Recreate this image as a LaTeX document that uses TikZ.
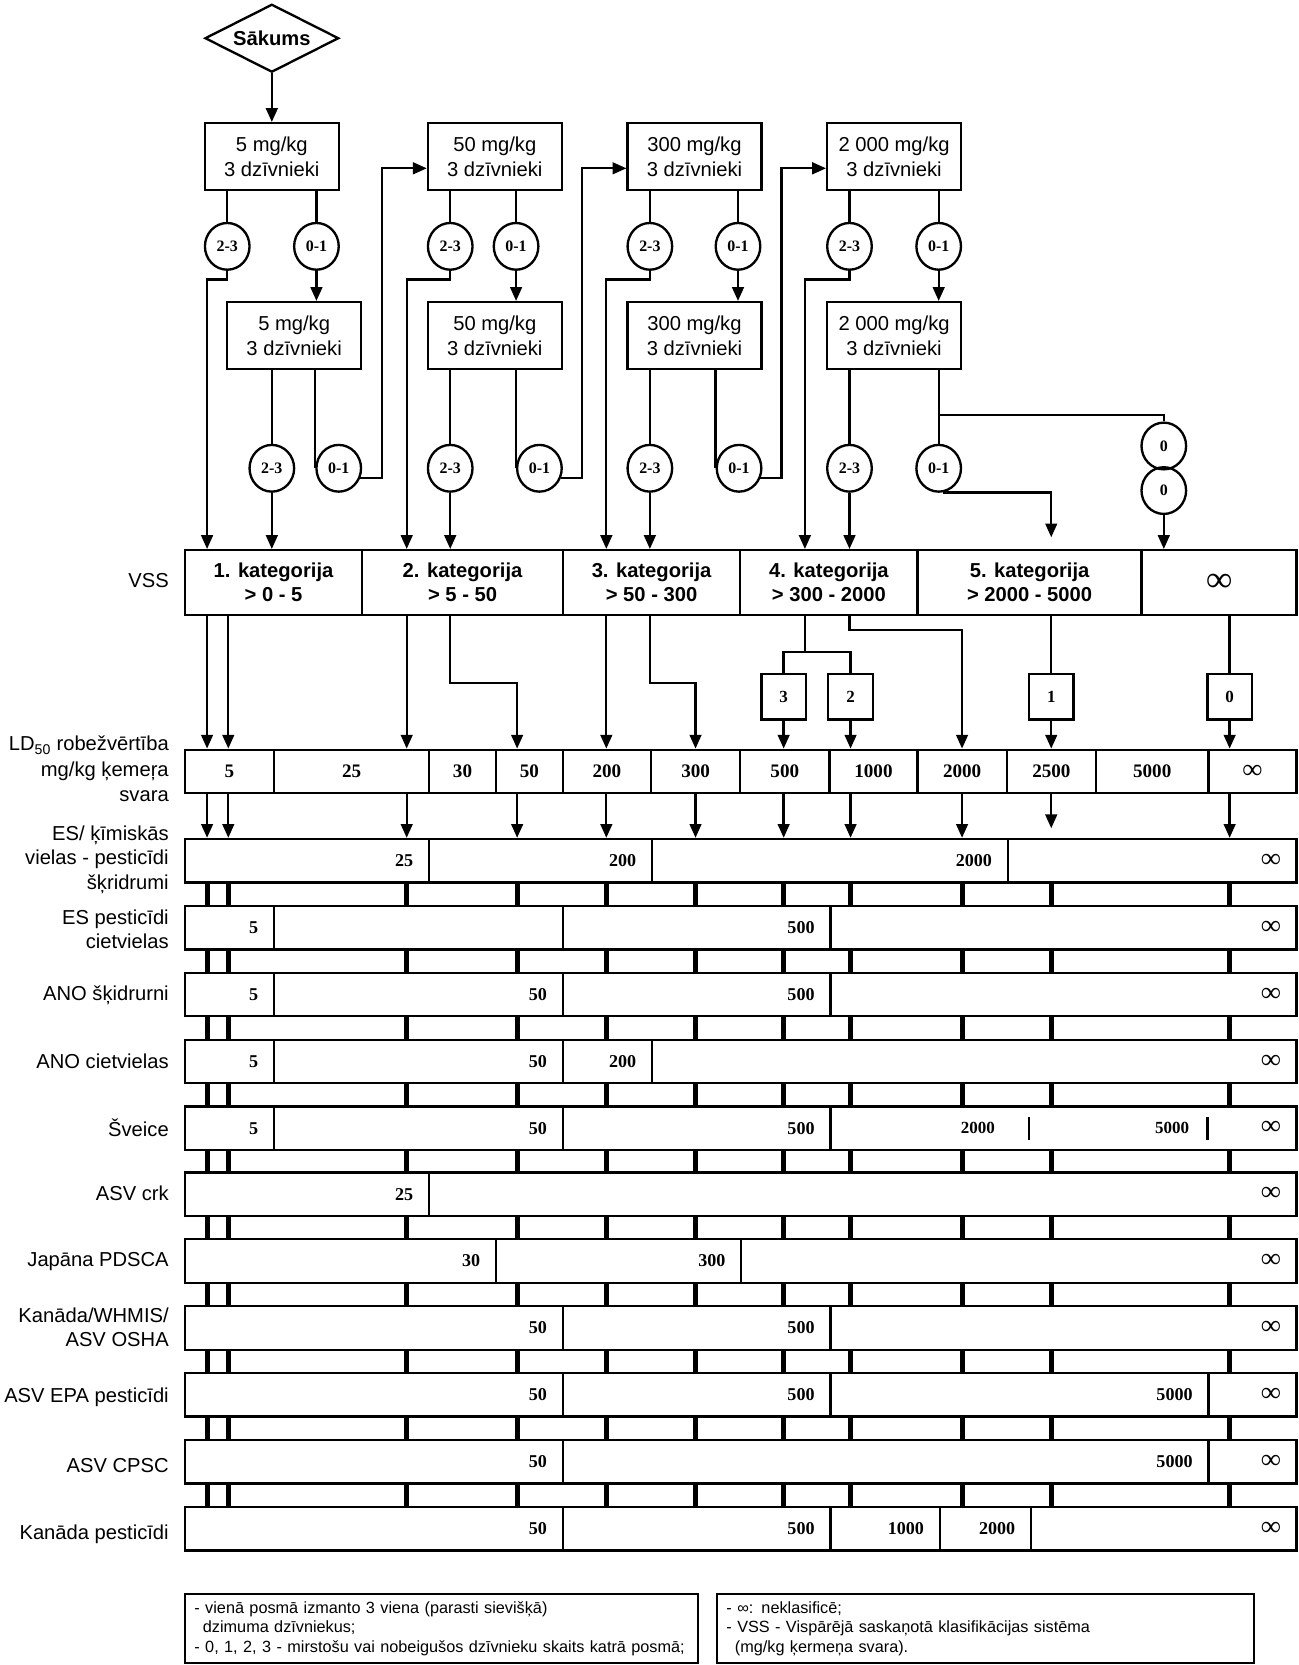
\documentclass[tikz,border=0pt]{standalone}
\usepackage{fontspec}
\setmainfont{Liberation Sans}
\newfontfamily\numfont{Liberation Serif}
\usetikzlibrary{shapes.geometric,arrows.meta,calc}
\newcommand\infsym{{\fontsize{26}{18}\selectfont ∞}}
\newcommand\segcell[5]{%
  \pgfmathsetmacro\segw{#3-#2}%
  \pgfmathsetmacro\segt{#3-#2-30}%
  \node[seg,minimum width=\segw pt,text width=\segt pt,anchor=north west] (#1) at (#2,#4) {#5};}
\newcommand\ldcell[4]{%
  \pgfmathsetmacro\segw{#3-#2}%
  \node[ld,minimum width=\segw pt,anchor=north west] (#1) at (#2,705) {#4};}
\newcommand\vsscell[4]{%
  \pgfmathsetmacro\segw{#3-#2}%
  \node[vss,minimum width=\segw pt,anchor=north west] (#1) at (#2,517) {#4};}
\begin{document}
\begin{tikzpicture}[x=1pt,y=-1pt,line width=2.2pt,
  >={Triangle[length=13pt,width=11pt]},
  stepbox/.style={draw,minimum width=126pt,minimum height=63pt,inner sep=0pt,align=center,font=\fontsize{19}{24}\selectfont},
  circ/.style={draw,ellipse,minimum width=42pt,minimum height=44pt,inner sep=0pt,font=\numfont\bfseries\fontsize{15}{15}\selectfont},
  vss/.style={draw,minimum height=61pt,inner sep=0pt,align=center,font=\bfseries\fontsize{19}{23}\selectfont},
  ld/.style={draw,minimum height=41pt,inner sep=0pt,font=\numfont\bfseries\fontsize{18}{18}\selectfont},
  seg/.style={draw,minimum height=41pt,inner xsep=15pt,inner ysep=0pt,align=right,font=\numfont\bfseries\fontsize{17}{18}\selectfont},
  cnt/.style={draw,minimum width=42pt,minimum height=43pt,inner sep=0pt,font=\numfont\bfseries\fontsize{16}{16}\selectfont},
  rowlbl/.style={anchor=east,align=right,inner sep=0pt,font=\fontsize{19}{23}\selectfont},
  bar/.style={line width=4.8pt},
  legend/.style={draw,anchor=north west,minimum height=65pt,inner xsep=9pt,inner ysep=2pt,align=left,font=\fontsize{15.3}{18.5}\selectfont},
]
\useasboundingbox (0,0) rectangle (1223,1568);

% column coordinates
\coordinate (cA) at (195,0);
\coordinate (cB) at (215,0);
\coordinate (cC) at (383,0);
\coordinate (cD) at (487,0);
\coordinate (cE) at (571,0);
\coordinate (cF) at (655,0);
\coordinate (cG) at (738,0);
\coordinate (cH) at (801,0);
\coordinate (cI) at (906,0);
\coordinate (cJ) at (990,0);
\coordinate (cK) at (1158,0);
\coordinate (cL) at (758,0);

% start
\node[draw,diamond,aspect=2,minimum width=126pt,minimum height=64pt,inner sep=0pt,font=\bfseries\fontsize{19}{19}\selectfont] (start) at (256,36) {Sākums};

% first row boxes
\node[stepbox] (b1) at (256,147.5) {5 mg/kg\\3 dzīvnieki};
\node[stepbox] (b2) at (466,147.5) {50 mg/kg\\3 dzīvnieki};
\node[stepbox] (b3) at (654,147.5) {300 mg/kg\\3 dzīvnieki};
\node[stepbox] (b4) at (842,147.5) {2 000 mg/kg\\3 dzīvnieki};

% first row circles
\node[circ] (p1a) at (214,232) {2-3};
\node[circ] (p1b) at (298,232) {0-1};
\node[circ] (p2a) at (424,232) {2-3};
\node[circ] (p2b) at (486,232) {0-1};
\node[circ] (p3a) at (612,232) {2-3};
\node[circ] (p3b) at (695,232) {0-1};
\node[circ] (p4a) at (800,232) {2-3};
\node[circ] (p4b) at (884,232) {0-1};

% second row boxes
\node[stepbox] (c1) at (277,316) {5 mg/kg\\3 dzīvnieki};
\node[stepbox] (c2) at (466,316) {50 mg/kg\\3 dzīvnieki};
\node[stepbox] (c3) at (654,316) {300 mg/kg\\3 dzīvnieki};
\node[stepbox] (c4) at (842,316) {2 000 mg/kg\\3 dzīvnieki};

% second row circles
\node[circ] (q1a) at (256,441) {2-3};
\node[circ] (q1b) at (319,441) {0-1};
\node[circ] (q2a) at (424,441) {2-3};
\node[circ] (q2b) at (508,441) {0-1};
\node[circ] (q3a) at (612,441) {2-3};
\node[circ] (q3b) at (696,441) {0-1};
\node[circ] (q4a) at (800,441) {2-3};
\node[circ] (q4b) at (884,441) {0-1};
\node[circ] (z1) at (1096,420) {0};
\node[circ] (z2) at (1096,462) {0};

% VSS row
\node[rowlbl] (vsslbl) at (160,547) {VSS};
\vsscell{k1}{173}{340}{1. kategorija\\> 0 - 5}
\vsscell{k2}{340}{529}{2. kategorija\\> 5 - 50}
\vsscell{k3}{529}{696}{3. kategorija\\> 50 - 300}
\vsscell{k4}{696}{863}{4. kategorija\\> 300 - 2000}
\vsscell{k5}{863}{1074}{5. kategorija\\> 2000 - 5000}
\vsscell{k6}{1074}{1220}{\numfont\bfseries\fontsize{34}{30}\selectfont ∞}

% count boxes
\node[cnt] (n3) at (738,656) {3};
\node[cnt] (n2) at (801,656) {2};
\node[cnt] (n1) at (990,656) {1};
\node[cnt] (n0) at (1158,656) {0};

% LD50 row
\node[rowlbl,font=\fontsize{19}{24}\selectfont] (ldlbl) at (160,724) {LD\textsubscript{50} robežvērtība\\mg/kg ķemeŗa\\svara};
\ldcell{l1}{173}{257}{5}
\ldcell{l2}{257}{403}{25}
\ldcell{l3}{403}{466}{30}
\ldcell{l4}{466}{529}{50}
\ldcell{l5}{529}{612}{200}
\ldcell{l6}{612}{696}{300}
\ldcell{l7}{696}{780}{500}
\ldcell{l8}{780}{863}{1000}
\ldcell{l9}{863}{947}{2000}
\ldcell{l10}{947}{1031}{2500}
\ldcell{l11}{1031}{1137}{5000}
\ldcell{l12}{1137}{1220}{\infsym}

% classification rows
\node[rowlbl] (t1) at (160,809.5) {ES/ ķīmiskās\\vielas - pesticīdi\\šķridrumi};
\segcell{r1a}{173}{403}{789}{25}
\segcell{r1b}{403}{613}{789}{200}
\segcell{r1c}{613}{948}{789}{2000}
\segcell{r1d}{948}{1220}{789}{\infsym}

\node[rowlbl] (t2) at (160,875) {ES pesticīdi\\cietvielas};
\segcell{r2a}{173}{257}{852}{5}
\segcell{r2b}{257}{529}{852}{}
\segcell{r2c}{529}{781}{852}{500}
\segcell{r2d}{781}{1220}{852}{\infsym}

\node[rowlbl] (t3) at (160,937) {ANO šķidrurni};
\segcell{r3a}{173}{257}{915}{5}
\segcell{r3b}{257}{529}{915}{50}
\segcell{r3c}{529}{781}{915}{500}
\segcell{r3d}{781}{1220}{915}{\infsym}

\node[rowlbl] (t4) at (160,999) {ANO cietvielas};
\segcell{r4a}{173}{257}{978}{5}
\segcell{r4b}{257}{529}{978}{50}
\segcell{r4c}{529}{613}{978}{200}
\segcell{r4d}{613}{1220}{978}{\infsym}

\node[rowlbl] (t5) at (160,1062) {Šveice};
\segcell{r5a}{173}{257}{1041}{5}
\segcell{r5b}{257}{529}{1041}{50}
\segcell{r5c}{529}{781}{1041}{500}
\segcell{r5d}{781}{1220}{1041}{\infsym}
\node[anchor=east,inner sep=0pt,font=\numfont\bfseries\fontsize{16}{16}\selectfont] (sv1) at (938,1062) {2000};
\node[anchor=east,inner sep=0pt,font=\numfont\bfseries\fontsize{16}{16}\selectfont] (sv2) at (1121,1062) {5000};
\draw (969,1052) -- (969,1074);
\draw (1137,1052) -- (1137,1074);

\node[rowlbl] (t6) at (160,1124) {ASV crk};
\segcell{r6a}{173}{403}{1103}{25}
\segcell{r6b}{403}{1220}{1103}{\infsym}

\node[rowlbl] (t7) at (160,1188) {Japāna PDSCA};
\segcell{r7a}{173}{466}{1166}{30}
\segcell{r7b}{466}{697}{1166}{300}
\segcell{r7c}{697}{1220}{1166}{\infsym}

\node[rowlbl] (t8) at (160,1250) {Kanāda/WHMIS/\\ASV OSHA};
\segcell{r8a}{173}{529}{1229}{50}
\segcell{r8b}{529}{781}{1229}{500}
\segcell{r8c}{781}{1220}{1229}{\infsym}

\node[rowlbl] (t9) at (160,1316) {ASV EPA pesticīdi};
\segcell{r9a}{173}{529}{1292}{50}
\segcell{r9b}{529}{781}{1292}{500}
\segcell{r9c}{781}{1137}{1292}{5000}
\segcell{r9d}{1137}{1220}{1292}{\infsym}

\node[rowlbl] (t10) at (160,1380) {ASV CPSC};
\segcell{r10a}{173}{529}{1355}{50}
\segcell{r10b}{529}{1137}{1355}{5000}
\segcell{r10c}{1137}{1220}{1355}{\infsym}

\node[rowlbl] (t11) at (160,1445) {Kanāda pesticīdi};
\segcell{r11a}{173}{529}{1418}{50}
\segcell{r11b}{529}{781}{1418}{500}
\segcell{r11c}{781}{884}{1418}{1000}
\segcell{r11d}{884}{970}{1418}{2000}
\segcell{r11e}{970}{1220}{1418}{\infsym}

% legend
\node[legend,minimum width=483pt,text width=465pt] (leg1) at (173,1500)
  {- vienā posmā izmanto 3 viena (parasti sievišķā)\\\hspace*{8pt}dzimuma dzīvniekus;\\- 0, 1, 2, 3 - mirstošu vai nobeigušos dzīvnieku skaits katrā posmā;};
\node[legend,minimum width=506pt,text width=488pt] (leg2) at (674,1500)
  {- ∞: neklasificē;\\- VSS - Vispārējā saskaņotā klasifikācijas sistēma\\\hspace*{8pt}(mg/kg ķermeņa svara).};

% ---------- connectors ----------
\draw[->] (start) -- (b1);
\foreach \b/\p in {b1/p1a,b1/p1b,b2/p2a,b2/p2b,b3/p3a,b3/p3b,b4/p4a,b4/p4b}
  \draw (\b.south -| \p) -- (\p);
\foreach \p/\c in {p1b/c1,p2b/c2,p3b/c3,p4b/c4}
  \draw[->] (\p) -- (\p |- \c.north);
\draw[->] (p1a.south) -- ++(0,8) -| (k1.north -| cA);
\draw[->] (p2a.south) -- ++(0,8) -| (k2.north -| cC);
\draw[->] (p3a.south) -- ++(0,8) -| (k3.north -| cE);
\draw[->] (p4a.south) -- ++(0,8) -| (k4.north -| cL);

\foreach \c/\q in {c1/q1a,c2/q2a,c3/q3a,c4/q4a,c4/q4b}
  \draw (\c.south -| \q) -- (\q);
\foreach \c/\q in {c1/q1b,c2/q2b,c3/q3b}
  \draw (\c.south -| \q.west) -- (\q.west);
\draw[->] (q1a) -- (q1a |- k1.north);
\draw[->] (q2a) -- (q2a |- k2.north);
\draw[->] (q3a) -- (q3a |- k3.north);
\draw[->] (q4a) -- (q4a |- k4.north);

\draw[->] (q1b.-25) -| ($(b2.west)+(-42,11)$) -- ($(b2.west)+(0,11)$);
\draw[->] (q2b.-25) -| ($(b3.west)+(-42,11)$) -- ($(b3.west)+(0,11)$);
\draw[->] (q3b.-25) -| ($(b4.west)+(-42,11)$) -- ($(b4.west)+(0,11)$);

\draw[->] (q4b.-80) -| ($(k5.north -| cJ)+(0,-11)$);
\draw (c4.south -| q4b) ++(0,42) -| (z1.north);
\draw[->] (z2) -- (z2 |- k6.north);

% VSS to LD50
\draw[->] (k1.south -| cA) -- (l1.north -| cA);
\draw[->] (k1.south -| cB) -- (l1.north -| cB);
\draw[->] (k2.south -| cC) -- (l2.north -| cC);
\draw[->] (k2.south -| q2a) -- ++(0,63) -| (l4.north -| cD);
\draw[->] (k3.south -| cE) -- (l5.north -| cE);
\draw[->] (k3.south -| q3a) -- ++(0,63) -| (l6.north -| cF);
\draw (k4.south -| cL) -- ++(0,34) coordinate (sp4);
\draw (n3.north) |- (sp4) -| (n2.north);
\draw[->] (n3) -- (n3 |- l7.north);
\draw[->] (n2) -- (n2 |- l8.north);
\draw[->] (k4.south -| q4a) -- ++(0,13) -| (l9.north -| cI);
\draw (k5.south -| cJ) -- (n1);
\draw[->] (n1) -- (n1 |- l10.north);
\draw (k6.south -| cK) -- (n0);
\draw[->] (n0) -- (n0 |- l12.north);

% LD50 to first classification row
\foreach \c in {cA,cB,cC,cD,cE,cF,cG,cH,cI,cK}
  \draw[->] (l1.south -| \c) -- (r1a.north -| \c);
\draw[->] (l1.south -| cJ) -- ($(r1a.north -| cJ)+(0,-9)$);

% thick bars between rows
\foreach \u/\v in {r1a/r2a,r2a/r3a,r3a/r4a,r4a/r5a,r5a/r6a,r6a/r7a,r7a/r8a,r8a/r9a,r9a/r10a,r10a/r11a}
  \foreach \c in {cA,cB,cC,cD,cE,cF,cG,cH,cI,cJ,cK}
    \draw[bar] (\u.south -| \c) -- (\v.north -| \c);
\end{tikzpicture}
\end{document}
